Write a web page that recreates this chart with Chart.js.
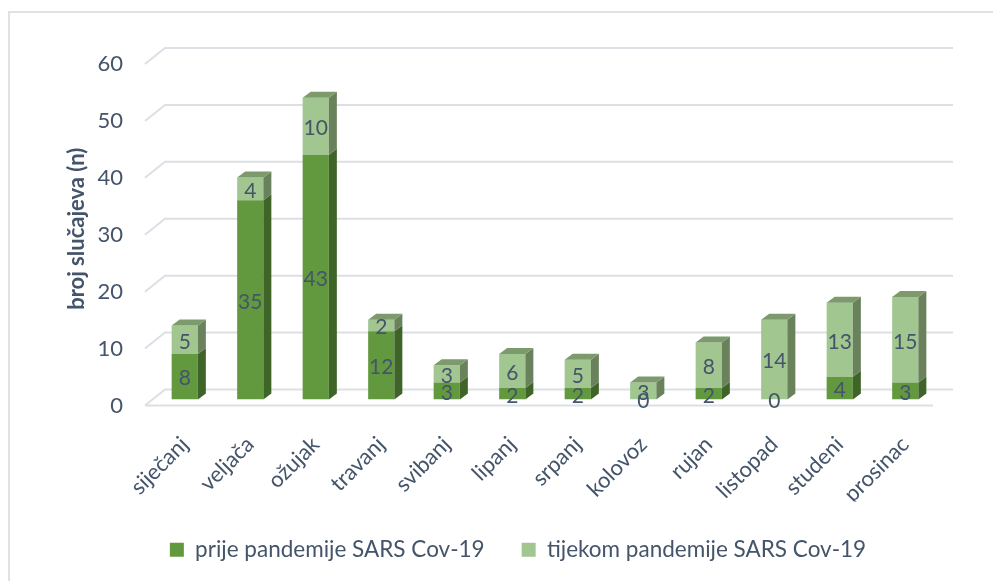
<!DOCTYPE html>
<html>
<head>
<meta charset="utf-8">
<title>broj slučajeva</title>
<script src="https://cdn.jsdelivr.net/npm/chart.js@4"></script>
<style>
  html, body { margin: 0; padding: 0; background: #fff; overflow: hidden; }
  #frame { position: absolute; left: 8px; top: 11px; width: 1100px; height: 700px;
           border-left: 2px solid #DEE2E6; border-top: 2px solid #DEE2E6; }
  #chart { position: absolute; left: 0; top: 0; }
</style>
</head>
<body>
<div id="frame"></div>
<canvas id="chart" width="1028" height="581"></canvas>
<script>
const months = ["siječanj", "veljača", "ožujak", "travanj", "svibanj", "lipanj",
  "srpanj", "kolovoz", "rujan", "listopad", "studeni", "prosinac"];
const beforePandemic = [8, 35, 43, 12, 3, 2, 2, 0, 2, 0, 4, 3];
const duringPandemic = [5, 4, 10, 2, 3, 6, 5, 3, 8, 14, 13, 15];
const yMax = 60;
const yStep = 10;

const textColor = "#44546A";
const gridColor = "#DCDFE4";
// front, side, top colour for each series
const faces = [
  { front: "#62993E", side: "#3F6428", top: "#55803A" },
  { front: "#A2C68F", side: "#6A825C", top: "#7D9A6C" }
];
const depthX = 8, depthY = 6;   // bar depth
const wallX = 20, wallY = 16;   // depth of the grid walls

// draws the 3d grid (left wall diagonals + back lines)
const grid3d = {
  id: "grid3d",
  beforeDatasetsDraw(chart) {
    const { ctx, chartArea, scales: { y } } = chart;
    ctx.save();
    ctx.strokeStyle = gridColor;
    ctx.lineWidth = 2;
    y.ticks.forEach(t => {
      const py = y.getPixelForValue(t.value);
      ctx.beginPath();
      ctx.moveTo(chartArea.left - 7, py + 6);
      ctx.lineTo(chartArea.left - 7 + wallX, py + 6 - wallY);
      ctx.lineTo(chartArea.right + 15, py + 6 - wallY);
      ctx.stroke();
    });
    const p0 = y.getPixelForValue(0);
    ctx.beginPath();
    ctx.moveTo(chartArea.left - 7, p0 + 6);
    ctx.lineTo(chartArea.right - 5, p0 + 6);
    ctx.stroke();
    ctx.restore();
  }
};

// side + top faces of the bars, then the value labels
const bars3d = {
  id: "bars3d",
  afterDatasetsDraw(chart) {
    const ctx = chart.ctx;
    const sets = chart.data.datasets;
    ctx.save();
    sets.forEach((ds, i) => {
      chart.getDatasetMeta(i).data.forEach((bar, j) => {
        if (!ds.data[j]) return;
        const { x, y, base, width } = bar.getProps(["x", "y", "base", "width"], true);
        const r = x + width / 2, l = x - width / 2;
        ctx.fillStyle = faces[i].side;
        ctx.beginPath();
        ctx.moveTo(r, y);
        ctx.lineTo(r + depthX, y - depthY);
        ctx.lineTo(r + depthX, base - depthY);
        ctx.lineTo(r, base);
        ctx.closePath();
        ctx.fill();
        // top face only on the highest non-zero segment
        let last = -1;
        sets.forEach((d, k) => { if (d.data[j] > 0) last = k; });
        if (last === i) {
          ctx.fillStyle = faces[i].top;
          ctx.beginPath();
          ctx.moveTo(l, y);
          ctx.lineTo(l + depthX, y - depthY);
          ctx.lineTo(r + depthX, y - depthY);
          ctx.lineTo(r, y);
          ctx.closePath();
          ctx.fill();
        }
      });
    });
    ctx.fillStyle = textColor;
    ctx.font = "21px Lato";
    ctx.textAlign = "center";
    ctx.textBaseline = "middle";
    sets.forEach((ds, i) => {
      chart.getDatasetMeta(i).data.forEach((bar, j) => {
        const { x, y, base } = bar.getProps(["x", "y", "base"], true);
        ctx.fillText(String(ds.data[j]), x, (y + base) / 2 + 2);
      });
    });
    ctx.restore();
  }
};

new Chart(document.getElementById("chart"), {
  type: "bar",
  data: {
    labels: months,
    datasets: [
      {
        label: "prije pandemije SARS Cov-19",
        data: beforePandemic,
        backgroundColor: faces[0].front,
        borderWidth: 0,
        barPercentage: 0.5,
        categoryPercentage: 0.8
      },
      {
        label: "tijekom pandemije SARS Cov-19",
        data: duringPandemic,
        backgroundColor: faces[1].front,
        borderWidth: 0,
        barPercentage: 0.5,
        categoryPercentage: 0.8
      }
    ]
  },
  options: {
    responsive: false,
    animation: false,
    devicePixelRatio: 1,
    layout: { padding: { left: 8, right: 0, top: 58, bottom: 10 } },
    scales: {
      x: {
        stacked: true,
        grid: { display: false },
        border: { display: false },
        ticks: {
          color: textColor,
          font: { family: "Lato", size: 22 },
          maxRotation: 45,
          minRotation: 45,
          autoSkip: false,
          padding: 24
        },
        afterFit(scale) { scale.height = 102; }
      },
      y: {
        stacked: true,
        min: 0,
        max: yMax,
        grid: { display: false, drawTicks: false },
        border: { display: false },
        ticks: {
          stepSize: yStep,
          color: textColor,
          font: { family: "Lato", size: 22 },
          padding: 29,
          labelOffset: 6
        },
        title: {
          display: true,
          text: "broj slučajeva (n)",
          color: textColor,
          font: { family: "Lato", size: 22, weight: "bold" },
          padding: { top: 56, bottom: 0 }
        },
        afterFit(scale) { scale.width = 144; }
      },
      // empty right axis: keeps the plot narrow while the legend spans the full frame
      y2: {
        position: "right",
        grid: { display: false },
        border: { display: false },
        ticks: { display: false },
        afterFit(scale) { scale.width = 90; }
      }
    },
    plugins: {
      legend: {
        position: "bottom",
        labels: {
          color: textColor,
          font: { family: "Lato", size: 22.5 },
          boxWidth: 14,
          boxHeight: 14,
          padding: 37
        }
      },
      tooltip: { enabled: false }
    }
  },
  plugins: [grid3d, bars3d]
});
</script>
</body>
</html>
